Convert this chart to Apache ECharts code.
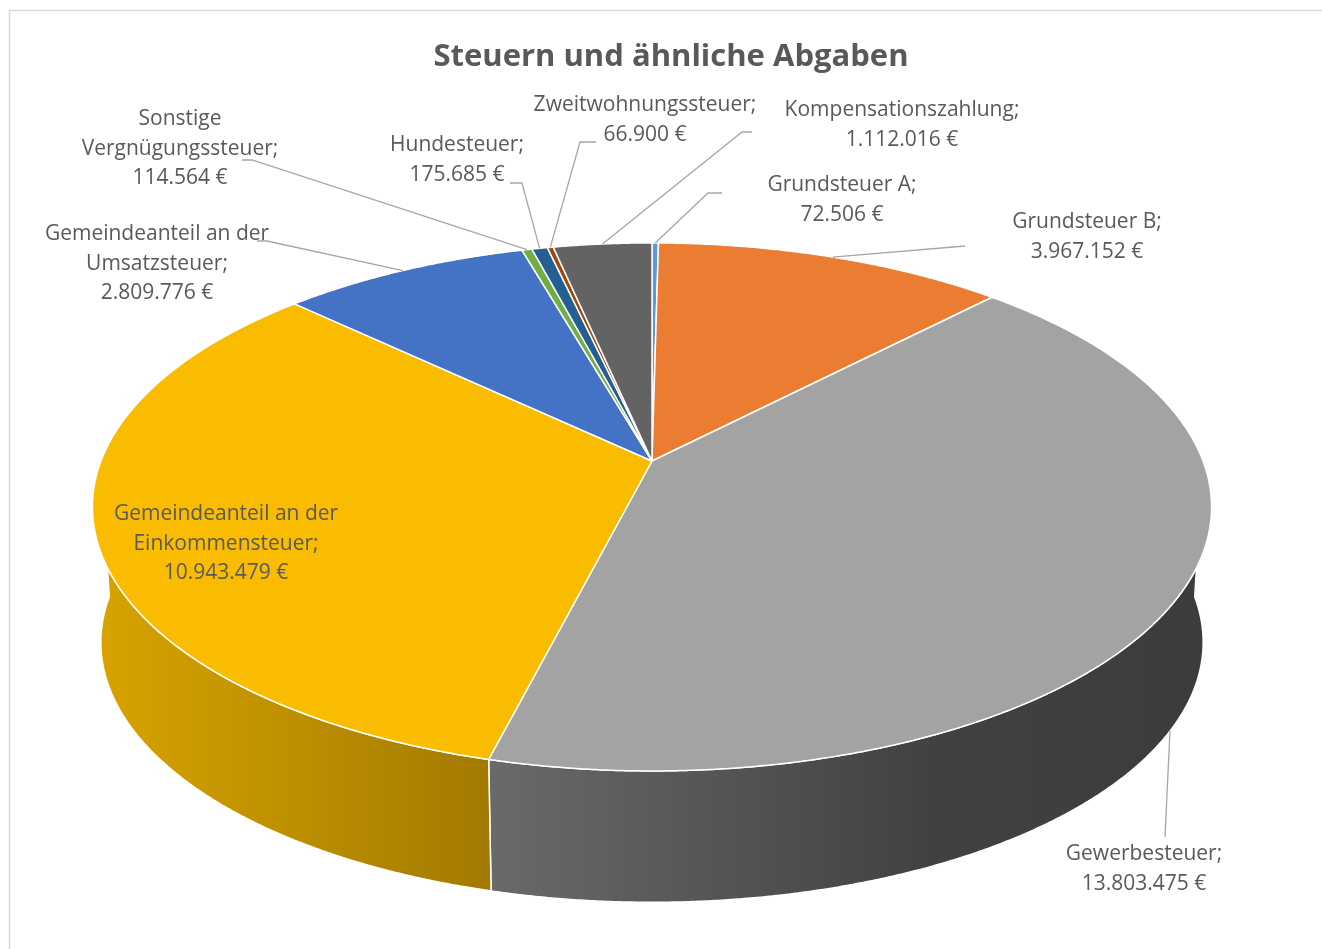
<!DOCTYPE html>
<html>
<head>
<meta charset="utf-8">
<script src="https://cdn.jsdelivr.net/npm/echarts@6/dist/echarts.min.js"></script>
<style>
  html, body { margin: 0; padding: 0; background: #fff; }
  #chart { width: 1322px; height: 949px; }
</style>
</head>
<body>
<div id="chart"></div>
<script>
// data, clockwise from 12 o'clock
const categories = [
  'Grundsteuer A',
  'Grundsteuer B',
  'Gewerbesteuer',
  'Gemeindeanteil an der Einkommensteuer',
  'Gemeindeanteil an der Umsatzsteuer',
  'Sonstige Vergnügungssteuer',
  'Hundesteuer',
  'Zweitwohnungssteuer',
  'Kompensationszahlung'
]
const values = [72506, 3967152, 13803475, 10943479, 2809776, 114564, 175685, 66900, 1112016]
const titleText = 'Steuern und ähnliche Abgaben'

// styles
const sliceColors = ['#5B9BD5', '#EA7D32', '#A3A3A3', '#F9BC00', '#4472C4', '#70AD47', '#255E91', '#9E480E', '#636363']
const textColor = '#595959'
const labelFont = '21px "Open Sans"'

// 3d disc projection
const geo = { cx: 652, cy: 461, A: 551, B: 256, k: 0.174, depth: 136, shrink: 0.985 }

// label layout: text centre, elbow points, anchor on top or bottom rim
const labelLayout = [
  { at: [842, 200], line: [[708, 193], [722, 193]] },
  { at: [1087, 237], line: [[965, 246]] },
  { at: [1144, 869], line: [[1165, 837]], bottom: true },
  { at: [226, 544], line: null },
  { at: [157, 264], line: [[267, 241], [257, 241]] },
  { at: [180, 149], line: [[252, 160], [242, 160]] },
  { at: [457, 160], line: [[522, 183], [510, 183]] },
  { at: [645, 120], line: [[580, 142], [596, 142]] },
  { at: [902, 125], line: [[742, 132], [752, 132]] }
]

const total = values.reduce((a, b) => a + b, 0)
const angles = []
let acc = 0
values.forEach(v => {
  const a0 = acc / total * Math.PI * 2
  acc += v
  angles.push([a0, acc / total * Math.PI * 2])
})

function proj (phi, bottom) {
  const u = Math.sin(phi)
  const v = -Math.cos(phi)
  const w = 1 - geo.k * v
  const s = bottom ? geo.shrink : 1
  return [geo.cx + s * geo.A * u / w, geo.cy + (bottom ? geo.depth : 0) + s * geo.B * v / w]
}

function arc (a0, a1, bottom) {
  const pts = []
  const n = Math.max(2, Math.ceil((a1 - a0) / 0.005))
  for (let i = 0; i <= n; i++) pts.push(proj(a0 + (a1 - a0) * i / n, bottom))
  return pts
}

function shade (hex, f) {
  const c = echarts.color.parse(hex)
  return 'rgb(' + [0, 1, 2].map(i => Math.round(c[i] * f)).join(',') + ')'
}

function fmt (v) {
  return String(v).replace(/\B(?=(\d{3})+(?!\d))/g, '.') + ' €'
}

function labelName (name) {
  if (name.length > 16 && name.indexOf(' ') > 0) {
    const i = name.lastIndexOf(' ')
    return name.slice(0, i) + '\n' + name.slice(i + 1)
  }
  return name
}

const chart = echarts.init(document.getElementById('chart'))

const option = {
  animation: false,
  title: {
    text: titleText,
    left: 666,
    top: 37,
    textAlign: 'center',
    textStyle: {
      color: textColor,
      fontFamily: 'Open Sans',
      fontWeight: 'bold',
      fontSize: 31
    }
  },
  graphic: [{
    type: 'rect',
    shape: { x: 9.5, y: 10.5, width: 1400, height: 1000 },
    style: { fill: 'none', stroke: '#d9d9d9', lineWidth: 1.5 },
    silent: true
  }],
  series: [
    {
      // side walls (front half only)
      type: 'custom',
      coordinateSystem: 'none',
      silent: true,
      z: 1,
      data: values,
      renderItem (params) {
        const i = params.dataIndex
        const a0 = Math.max(angles[i][0], Math.PI / 2)
        const a1 = Math.min(angles[i][1], Math.PI * 1.5)
        if (a1 <= a0) return { type: 'group', children: [] }
        const pts = arc(a0, a1, false).concat(arc(a0, a1, true).reverse())
        const x0 = geo.cx - geo.A * 1.015
        const x1 = geo.cx + geo.A * 1.015
        return {
          type: 'polygon',
          shape: { points: pts },
          style: {
            fill: new echarts.graphic.LinearGradient(x0, 0, x1, 0, [
              { offset: 0, color: shade(sliceColors[i], 0.87) },
              { offset: 0.75, color: shade(sliceColors[i], 0.4) },
              { offset: 1, color: shade(sliceColors[i], 0.37) }
            ], true),
            stroke: '#fff',
            lineWidth: 1.5
          }
        }
      }
    },
    {
      // top faces
      type: 'custom',
      coordinateSystem: 'none',
      silent: true,
      z: 2,
      data: values,
      renderItem (params) {
        const i = params.dataIndex
        const pts = [[geo.cx, geo.cy]].concat(arc(angles[i][0], angles[i][1], false))
        return {
          type: 'polygon',
          shape: { points: pts },
          style: { fill: sliceColors[i], stroke: '#fff', lineWidth: 1.5, lineJoin: 'round' }
        }
      }
    },
    {
      // data labels with leader lines
      type: 'custom',
      coordinateSystem: 'none',
      silent: true,
      z: 3,
      data: values,
      renderItem (params) {
        const i = params.dataIndex
        const lay = labelLayout[i]
        const children = []
        if (lay.line) {
          const mid = (angles[i][0] + angles[i][1]) / 2
          children.push({
            type: 'polyline',
            shape: { points: [proj(mid, lay.bottom)].concat(lay.line) },
            style: { stroke: '#a6a6a6', lineWidth: 1.3, fill: null }
          })
        }
        children.push({
          type: 'text',
          x: lay.at[0],
          y: lay.at[1],
          style: {
            text: labelName(categories[i]) + ';\n' + fmt(values[i]),
            fill: textColor,
            font: labelFont,
            align: 'center',
            verticalAlign: 'middle',
            lineHeight: 29.5
          }
        })
        return { type: 'group', children }
      }
    }
  ]
}

chart.setOption(option)
</script>
</body>
</html>
